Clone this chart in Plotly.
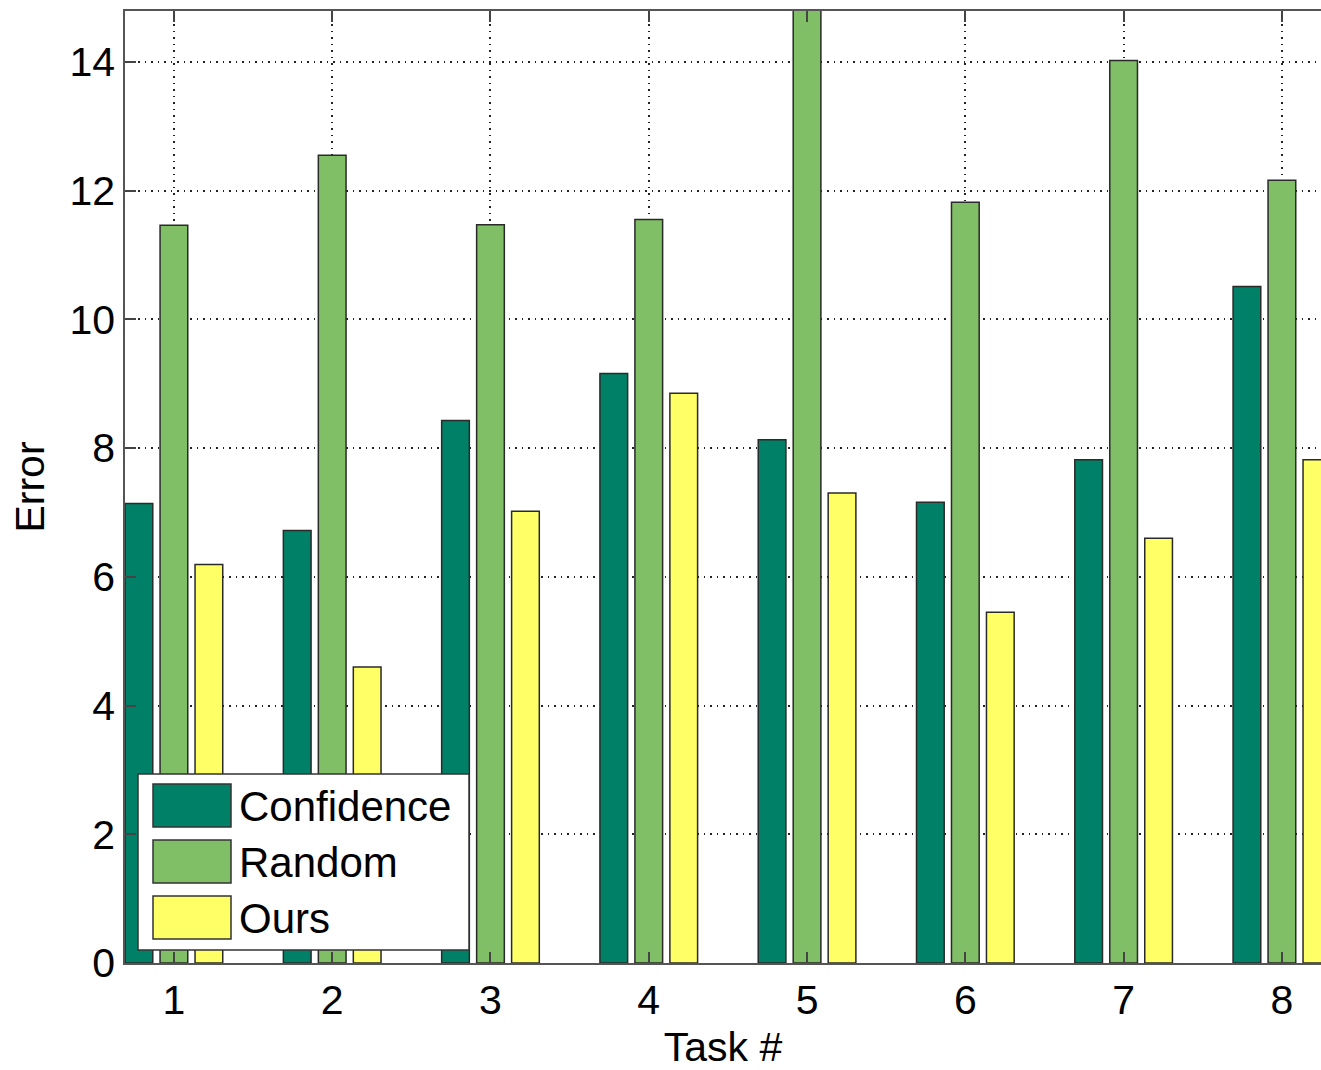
import plotly.graph_objects as go

tasks = [1, 2, 3, 4, 5, 6, 7, 8]
series_names = ["Confidence", "Random", "Ours"]
confidence = [7.14, 6.72, 8.43, 9.16, 8.13, 7.16, 7.82, 10.51]
random_sel = [11.46, 12.55, 11.47, 11.55, 15.2, 11.82, 14.02, 12.16]
ours = [6.19, 4.60, 7.02, 8.85, 7.30, 5.45, 6.60, 7.82]
series_values = [confidence, random_sel, ours]
colors = ["rgb(0,128,102)", "rgb(128,191,102)", "rgb(255,255,102)"]
y_ticks = [0, 2, 4, 6, 8, 10, 12, 14]

W, H = 1321, 1070
ML, MR, MT, MB = 125, 0, 11, 107
FONT = "Liberation Sans, Arial, Helvetica, sans-serif"

fig = go.Figure()
for name, vals, col in zip(series_names, series_values, colors):
    fig.add_trace(go.Bar(
        x=tasks, y=vals, name=name,
        marker=dict(color=col, line=dict(color="#2a2a2a", width=1.5)),
        showlegend=False,
    ))

axis_common = dict(
    showline=True, linecolor="#555555", linewidth=1.5,
    ticks="inside", ticklen=11, tickwidth=1.5, tickcolor="#444444",
    showgrid=True, gridcolor="#222222", gridwidth=1.5, griddash="1.5px,5px",
    zeroline=False, automargin=False,
    tickfont=dict(family=FONT, size=41, color="black"),
)

fig.update_xaxes(
    **axis_common,
    range=[0.691, 8.247], tickmode="array", tickvals=tasks,
    ticktext=[str(t) for t in tasks],
    mirror="ticks",
    title=dict(text="Task #", font=dict(family=FONT, size=41, color="black"), standoff=21),
)
fig.update_yaxes(
    **axis_common,
    range=[0, 14.79], tickmode="array", tickvals=y_ticks,
    ticktext=[str(t) for t in y_ticks],
    mirror=False,
    title=dict(text="Error", font=dict(family=FONT, size=41, color="black"), standoff=12),
)

# Manual MATLAB-style legend (paper coordinates derived from the reference pixel layout)
pw, ph = W - ML - MR, H - MT - MB
def px_x(p):
    return (p - ML) / pw
def px_y(p):
    return (H - MB - p) / ph

shapes = [dict(type="rect", xref="paper", yref="paper",
               x0=px_x(138), x1=px_x(469), y0=px_y(950), y1=px_y(774),
               fillcolor="white", line=dict(color="#333333", width=1.5), layer="above")]
annotations = []
for i, (name, col) in enumerate(zip(series_names, colors)):
    top = 784 + i * 56
    shapes.append(dict(type="rect", xref="paper", yref="paper",
                       x0=px_x(153), x1=px_x(231), y0=px_y(top + 43), y1=px_y(top),
                       fillcolor=col, line=dict(color="#333333", width=1.5), layer="above"))
    annotations.append(dict(xref="paper", yref="paper", x=px_x(237), y=px_y(top + 22),
                            text=name, showarrow=False, xanchor="left", yanchor="middle",
                            font=dict(family=FONT, size=42, color="black")))

fig.update_layout(
    width=W, height=H,
    margin=dict(l=ML, r=MR, t=MT, b=MB),
    paper_bgcolor="white", plot_bgcolor="white",
    barmode="group", bargap=0.337, bargroupgap=0.208,
    shapes=shapes, annotations=annotations,
    showlegend=False,
)

fig.write_html(
    "out.html",
    config={"displayModeBar": False},
    post_script="document.body.style.margin='0';document.body.style.overflow='hidden';",
)
